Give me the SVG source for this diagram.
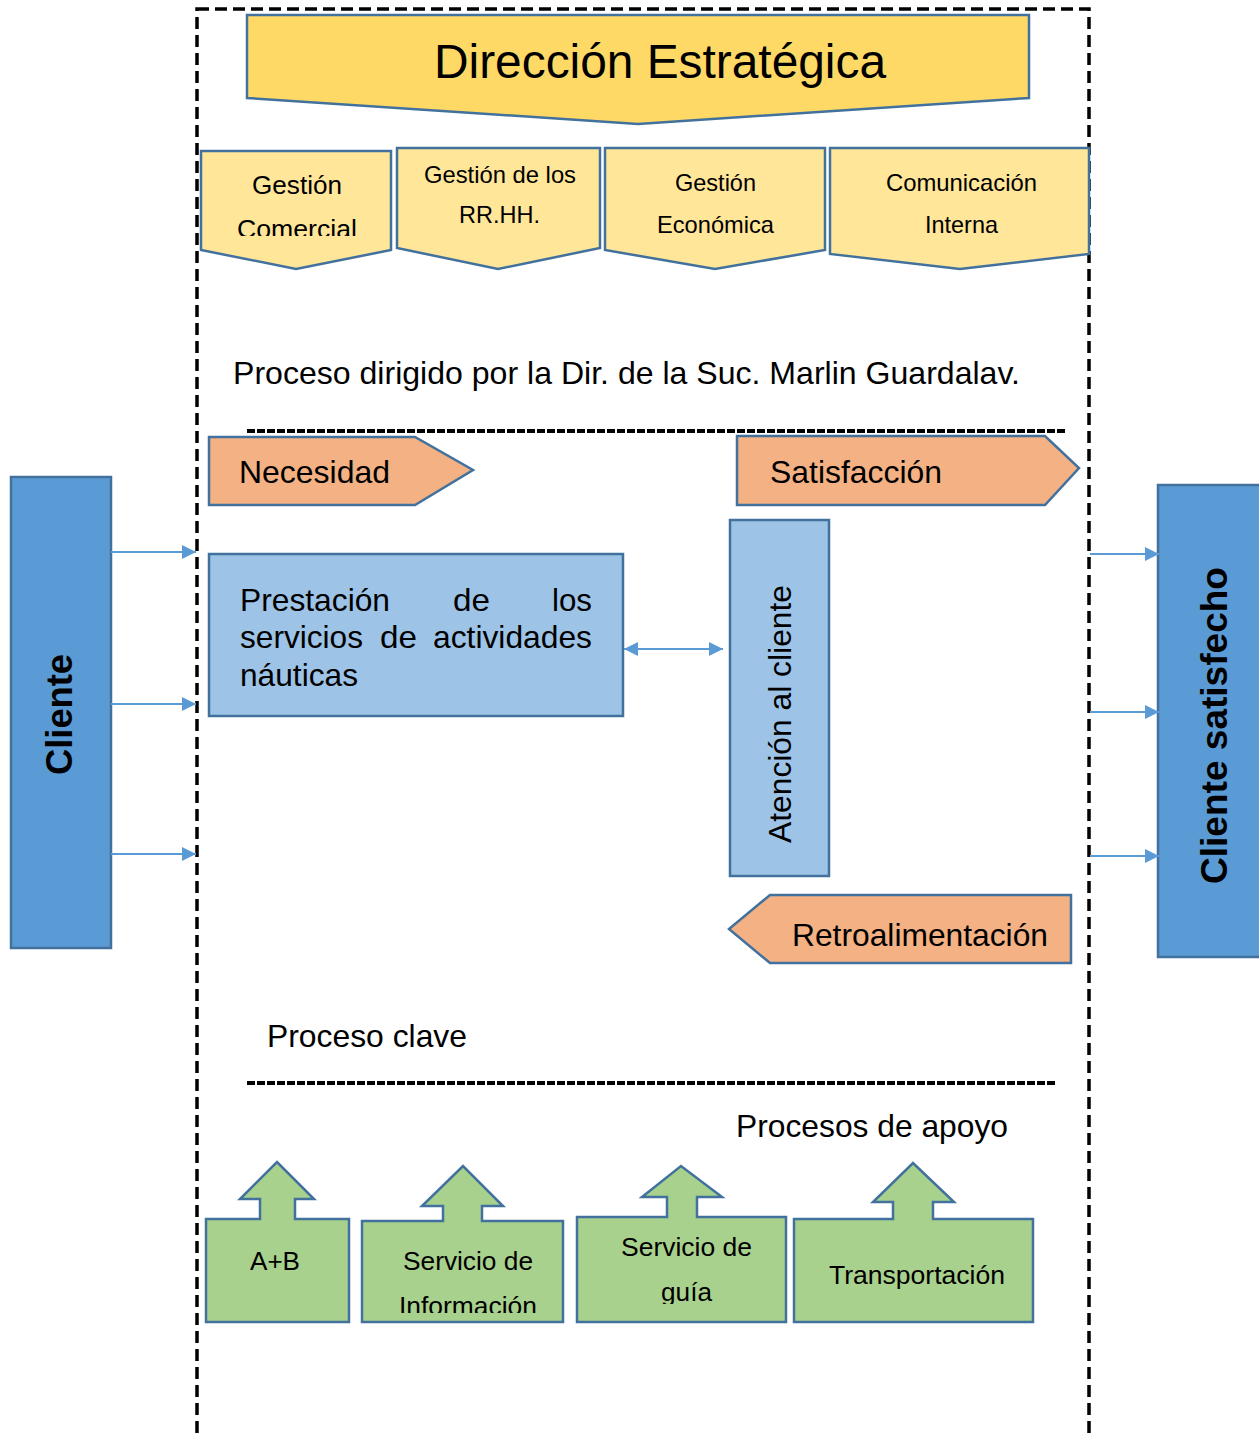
<svg xmlns="http://www.w3.org/2000/svg" width="1259" height="1433" viewBox="0 0 1259 1433">
<style>
text{font-family:"Liberation Sans",Arial,sans-serif;fill:#000}
.y1{fill:#FFD966;stroke:#41719C;stroke-width:2.5}
.y2{fill:#FFE699;stroke:#41719C;stroke-width:2.5}
.o{fill:#F4B183;stroke:#41719C;stroke-width:2.5}
.lb{fill:#9DC3E6;stroke:#41719C;stroke-width:2.5}
.db{fill:#5B9BD5;stroke:#41719C;stroke-width:2.5}
.g{fill:#A9D18E;stroke:#41719C;stroke-width:2.5}
.con{stroke:#5B9BD5;stroke-width:2;fill:none}
.sub{font-size:24px}
.gr{font-size:26px}
.big{font-size:32px}
.bold{font-size:37px;font-weight:bold}
</style>
<defs>
<marker id="ah2" viewBox="0 0 10 10" refX="10" refY="5" markerWidth="14" markerHeight="14" orient="auto-start-reverse" markerUnits="userSpaceOnUse">
<path d="M0,0 L10,5 L0,10 z" fill="#5B9BD5"/>
</marker>
<clipPath id="c1"><rect x="201" y="150" width="190" height="86"/></clipPath>
<clipPath id="c3"><rect x="605" y="148" width="220" height="85"/></clipPath>
<clipPath id="c4"><rect x="830" y="148" width="259" height="85"/></clipPath>
<clipPath id="c6"><rect x="362" y="1221" width="201" height="92"/></clipPath>
<clipPath id="c7"><rect x="577" y="1217" width="209" height="87"/></clipPath>
</defs>

<g id="frame">
<rect x="197" y="9" width="892" height="1440" fill="none" stroke="#000" stroke-width="3.5" stroke-dasharray="12,6"/>
</g>

<g id="direccion">
<polygon class="y1" points="247,15 1029,15 1029,98 638,124 247,98"/>
<text x="434" y="78" font-size="48" textLength="452" lengthAdjust="spacingAndGlyphs">Dirección Estratégica</text>
</g>

<g id="gestion-comercial">
<polygon class="y2" points="201,151 391,151 391,250 296,269 201,250"/>
<g clip-path="url(#c1)">
<text x="252" y="194" font-size="26" textLength="90" lengthAdjust="spacingAndGlyphs">Gestión</text>
<text x="237" y="238" font-size="26" textLength="120" lengthAdjust="spacingAndGlyphs">Comercial</text>
</g>
</g>
<g id="gestion-rrhh">
<polygon class="y2" points="397,148 600,148 600,248 498,269 397,248"/>
<text class="sub" x="424" y="183" textLength="152" lengthAdjust="spacingAndGlyphs">Gestión de los</text>
<text class="sub" x="459" y="223" textLength="81" lengthAdjust="spacingAndGlyphs">RR.HH.</text>
</g>
<g id="gestion-economica">
<polygon class="y2" points="605,148 825,148 825,250 715,269 605,250"/>
<g clip-path="url(#c3)">
<text class="sub" x="675" y="191" textLength="81" lengthAdjust="spacingAndGlyphs">Gestión</text>
<text class="sub" x="657" y="233" textLength="117" lengthAdjust="spacingAndGlyphs">Económica</text>
</g>
</g>
<g id="comunicacion-interna">
<polygon class="y2" points="830,148 1089,148 1089,254 960,269 830,254"/>
<g clip-path="url(#c4)">
<text class="sub" x="886" y="191" textLength="151" lengthAdjust="spacingAndGlyphs">Comunicación</text>
<text class="sub" x="925" y="233" textLength="73" lengthAdjust="spacingAndGlyphs">Interna</text>
</g>
</g>

<g id="label-proceso-dirigido">
<text class="big" x="233" y="384" textLength="787" lengthAdjust="spacingAndGlyphs">Proceso dirigido por la Dir. de la Suc. Marlin Guardalav.</text>
</g>
<g id="sep1">
<line x1="247" y1="431" x2="1066" y2="431" stroke="#000" stroke-width="4" stroke-dasharray="8,2"/>
</g>

<g id="necesidad">
<polygon class="o" points="209,437 415,437 473,470 415,505 209,505"/>
<text class="big" x="239" y="483" textLength="151" lengthAdjust="spacingAndGlyphs">Necesidad</text>
</g>
<g id="satisfaccion">
<polygon class="o" points="737,436 1045,436 1079,468 1045,505 737,505"/>
<text class="big" x="770" y="483" textLength="172" lengthAdjust="spacingAndGlyphs">Satisfacción</text>
</g>

<g id="prestacion">
<rect class="lb" x="209" y="554" width="414" height="162"/>
<text class="big" x="240" y="611" textLength="150" lengthAdjust="spacingAndGlyphs">Prestación</text>
<text class="big" x="453" y="611" textLength="37" lengthAdjust="spacingAndGlyphs">de</text>
<text class="big" x="552" y="611" textLength="40" lengthAdjust="spacingAndGlyphs">los</text>
<text class="big" x="240" y="648" textLength="123" lengthAdjust="spacingAndGlyphs">servicios</text>
<text class="big" x="380" y="648" textLength="37" lengthAdjust="spacingAndGlyphs">de</text>
<text class="big" x="433" y="648" textLength="159" lengthAdjust="spacingAndGlyphs">actividades</text>
<text class="big" x="240" y="686" textLength="118" lengthAdjust="spacingAndGlyphs">náuticas</text>
</g>

<g id="atencion">
<rect class="lb" x="730" y="520" width="99" height="356"/>
<text class="big" transform="translate(791,843) rotate(-90)" textLength="258" lengthAdjust="spacingAndGlyphs">Atención al cliente</text>
</g>

<g id="retroalimentacion">
<polygon class="o" points="770,895 1071,895 1071,963 770,963 729,929"/>
<text class="big" x="792" y="946" textLength="256" lengthAdjust="spacingAndGlyphs">Retroalimentación</text>
</g>

<g id="cliente">
<rect class="db" x="11" y="477" width="100" height="471"/>
<text class="bold" transform="translate(72,775) rotate(-90)" textLength="121" lengthAdjust="spacingAndGlyphs">Cliente</text>
</g>

<g id="cliente-satisfecho">
<rect class="db" x="1158" y="485" width="105" height="472"/>
<text class="bold" transform="translate(1227,884) rotate(-90)" textLength="317" lengthAdjust="spacingAndGlyphs">Cliente satisfecho</text>
</g>

<g id="label-proceso-clave">
<text class="big" x="267" y="1047" textLength="200" lengthAdjust="spacingAndGlyphs">Proceso clave</text>
</g>
<g id="sep2">
<line x1="247" y1="1083" x2="1056" y2="1083" stroke="#000" stroke-width="4" stroke-dasharray="8,2"/>
</g>
<g id="label-procesos-apoyo">
<text class="big" x="736" y="1137" textLength="272" lengthAdjust="spacingAndGlyphs">Procesos de apoyo</text>
</g>

<g id="ab">
<polygon class="g" points="206,1219 260,1219 260,1199 240,1199 277,1162 314,1199 295,1199 295,1219 349,1219 349,1322 206,1322"/>
<text class="gr" x="250" y="1270" textLength="50" lengthAdjust="spacingAndGlyphs">A+B</text>
</g>
<g id="servicio-informacion">
<polygon class="g" points="362,1221 443,1221 443,1206 422,1206 463,1166 503,1206 482,1206 482,1221 563,1221 563,1322 362,1322"/>
<g clip-path="url(#c6)">
<text class="gr" x="403" y="1270" textLength="130" lengthAdjust="spacingAndGlyphs">Servicio de</text>
<text class="gr" x="399" y="1315" textLength="138" lengthAdjust="spacingAndGlyphs">Información</text>
</g>
</g>
<g id="servicio-guia">
<polygon class="g" points="577,1217 667,1217 667,1197 642,1197 681,1166 722,1197 697,1197 697,1217 786,1217 786,1322 577,1322"/>
<g clip-path="url(#c7)">
<text class="gr" x="621" y="1256" textLength="131" lengthAdjust="spacingAndGlyphs">Servicio de</text>
<text class="gr" x="661" y="1301" textLength="51" lengthAdjust="spacingAndGlyphs">guía</text>
</g>
</g>
<g id="transportacion">
<polygon class="g" points="794,1219 893,1219 893,1202 873,1202 913,1163 954,1202 933,1202 933,1219 1033,1219 1033,1322 794,1322"/>
<text class="gr" x="829" y="1284" textLength="176" lengthAdjust="spacingAndGlyphs">Transportación</text>
</g>

<g id="connectors">
<line class="con" x1="111" y1="552" x2="196" y2="552" marker-end="url(#ah2)"/>
<line class="con" x1="111" y1="704" x2="196" y2="704" marker-end="url(#ah2)"/>
<line class="con" x1="111" y1="854" x2="196" y2="854" marker-end="url(#ah2)"/>
<line class="con" x1="1090" y1="554" x2="1159" y2="554" marker-end="url(#ah2)"/>
<line class="con" x1="1090" y1="712" x2="1159" y2="712" marker-end="url(#ah2)"/>
<line class="con" x1="1090" y1="856" x2="1159" y2="856" marker-end="url(#ah2)"/>
<line class="con" x1="624" y1="649" x2="723" y2="649" marker-start="url(#ah2)" marker-end="url(#ah2)"/>
</g>
</svg>
